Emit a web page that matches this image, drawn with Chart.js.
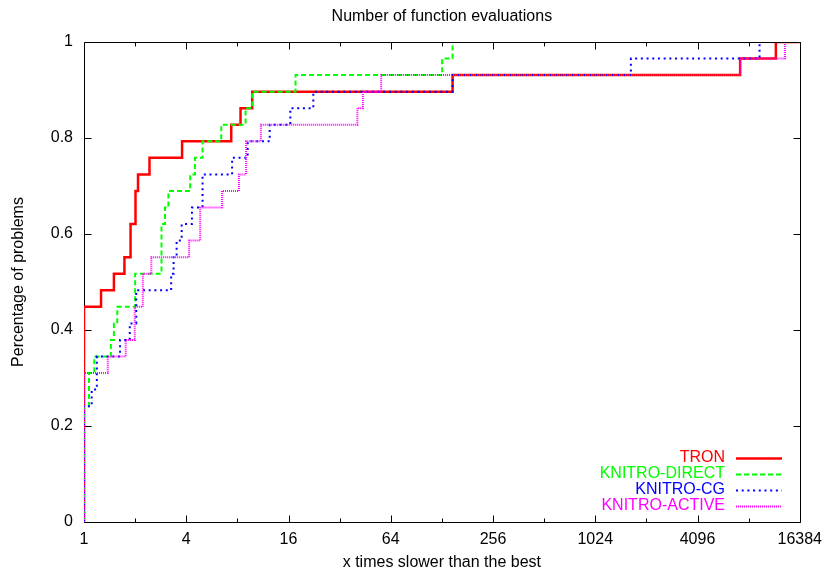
<!DOCTYPE html>
<html>
<head>
<meta charset="utf-8">
<title>Number of function evaluations</title>
<script src="https://cdn.jsdelivr.net/npm/chart.js@4.4.1/dist/chart.umd.min.js"></script>
<style>
    html, body { margin: 0; padding: 0; background: #fff; }
    #wrap { width: 830px; height: 578px; }
</style>
</head>
<body>
<div id="wrap"><canvas id="profile-chart" width="830" height="578"></canvas></div>
<script>
    "use strict";

    // Axis ticks
    const xTicks = [1, 4, 16, 64, 256, 1024, 4096, 16384];
    const xMinorTicks = [2, 8, 32, 128, 512, 2048, 8192];
    const yTicks = [0, 0.2, 0.4, 0.6, 0.8, 1];
    const numProblems = 29;

    // Performance profile: ratio where the step happens, problems solved up to that ratio
    const tronRatio = [1, 1.26, 1.5, 1.73, 1.88, 2.01, 2.08, 2.43, 3.78, 7.36, 8.35, 9.78, 148, 7300, 11850];
    const tronCount = [13, 14, 15, 16, 18, 20, 21, 22, 23, 24, 25, 26, 27, 28, 29];

    const directRatio = [1, 1.07, 1.15, 1.44, 1.5, 1.57, 2.0, 2.86, 3.0, 3.14, 4.22, 4.5, 4.99, 6.43, 8.94, 9.78, 17.6, 128.5, 148];
    const directCount = [7, 9, 10, 11, 12, 13, 15, 18, 19, 20, 21, 22, 23, 24, 25, 26, 27, 28, 29];

    const cgRatio = [1, 1.11, 1.19, 1.63, 1.86, 2.03, 3.26, 3.37, 3.51, 3.76, 4.32, 4.99, 7.45, 9.2, 12.4, 16.4, 22.4, 148, 1660, 9500];
    const cgCount = [7, 8, 10, 11, 12, 14, 15, 16, 17, 18, 19, 21, 22, 23, 24, 25, 26, 27, 28, 29];

    const activeRatio = [1, 1.38, 1.76, 1.99, 2.22, 2.49, 4.16, 4.83, 6.5, 8.17, 9.0, 11.0, 40.7, 43.9, 56.2, 7300, 13400];
    const activeCount = [9, 10, 11, 13, 15, 16, 17, 19, 20, 21, 23, 24, 25, 26, 27, 28, 29];

    const FONT = '"Liberation Sans", Arial, Helvetica, sans-serif';
    const X_MAX = xTicks[xTicks.length - 1];

    // Build step points: start at 0 on x=1, run out to the right edge at the end
    function profilePoints(ratios, counts) {
        const pts = [{ x: 1, y: 0 }];
        ratios.forEach(function (r, i) {
            pts.push({ x: r, y: counts[i] / numProblems });
        });
        pts.push({ x: X_MAX, y: counts[counts.length - 1] / numProblems });
        return pts;
    }

    function makeDataset(label, ratios, counts, color, width, dash, order) {
        return {
            label: label,
            data: profilePoints(ratios, counts),
            borderColor: color,
            backgroundColor: color,
            borderWidth: width,
            borderDash: dash,
            borderCapStyle: 'butt',
            stepped: 'before',
            pointRadius: 0,
            fill: false,
            order: order
        };
    }

    function crisp(v) {
        return Math.round(v) + 0.5;
    }

    // Frame and inward ticks go under the curves so the x=1 risers stay visible
    const gnuplotFrame = {
        id: 'gnuplotFrame',
        beforeDatasetsDraw(chart) {
            const ctx = chart.ctx;
            const area = chart.chartArea;
            const xs = chart.scales.x;
            const ys = chart.scales.y;
            const left = crisp(area.left), right = crisp(area.right);
            const top = crisp(area.top), bottom = crisp(area.bottom);

            ctx.save();
            ctx.setLineDash([]);
            ctx.strokeStyle = '#000';
            ctx.lineWidth = 1;
            ctx.beginPath();
            ctx.rect(left, top, right - left, bottom - top);

            xTicks.forEach(function (v) {
                const px = crisp(xs.getPixelForValue(v));
                ctx.moveTo(px, bottom); ctx.lineTo(px, bottom - 7);
                ctx.moveTo(px, top); ctx.lineTo(px, top + 7);
            });
            xMinorTicks.forEach(function (v) {
                const px = crisp(xs.getPixelForValue(v));
                ctx.moveTo(px, bottom); ctx.lineTo(px, bottom - 4);
                ctx.moveTo(px, top); ctx.lineTo(px, top + 4);
            });
            yTicks.forEach(function (v) {
                const py = crisp(ys.getPixelForValue(v));
                ctx.moveTo(left, py); ctx.lineTo(left + 7, py);
                ctx.moveTo(right, py); ctx.lineTo(right - 7, py);
            });
            ctx.stroke();
            ctx.restore();
        },
        afterDatasetsDraw(chart) {
            const ctx = chart.ctx;
            const area = chart.chartArea;
            const top = crisp(area.top);

            ctx.save();
            // top border stays black over curves that reach 1
            ctx.setLineDash([]);
            ctx.strokeStyle = '#000';
            ctx.lineWidth = 1;
            ctx.beginPath();
            ctx.moveTo(crisp(area.left) + 2, top);
            ctx.lineTo(crisp(area.right), top);
            ctx.stroke();

            // Titles
            ctx.fillStyle = '#000';
            ctx.font = '16px ' + FONT;
            ctx.textAlign = 'center';
            ctx.textBaseline = 'middle';
            const midX = (area.left + area.right) / 2;
            ctx.fillText('Number of function evaluations', midX, 17);
            ctx.fillText('x times slower than the best', midX, 563);

            ctx.save();
            ctx.translate(19, (area.top + area.bottom) / 2);
            ctx.rotate(-Math.PI / 2);
            ctx.fillText('Percentage of problems', 0, 0);
            ctx.restore();

            // Legend, text right aligned with the line sample after it
            ctx.textAlign = 'right';
            chart.data.datasets.forEach(function (ds, i) {
                const y = 458 + i * 16;
                ctx.fillStyle = ds.borderColor;
                ctx.fillText(ds.label, 725, y);
                ctx.strokeStyle = ds.borderColor;
                ctx.lineWidth = ds.borderWidth;
                ctx.setLineDash(ds.borderDash);
                ctx.beginPath();
                ctx.moveTo(736, y + 0.5);
                ctx.lineTo(782, y + 0.5);
                ctx.stroke();
            });
            ctx.restore();
        }
    };

    const ctxEl = document.getElementById('profile-chart');
    new Chart(ctxEl, {
        type: 'line',
        data: {
            datasets: [
                makeDataset('TRON', tronRatio, tronCount, '#ff0000', 2.5, [], 4),
                makeDataset('KNITRO-DIRECT', directRatio, directCount, '#00ff00', 2, [5, 3], 3),
                makeDataset('KNITRO-CG', cgRatio, cgCount, '#0000ff', 2, [2, 3.7], 2),
                makeDataset('KNITRO-ACTIVE', activeRatio, activeCount, '#ff00ff', 2, [1, 1], 1)
            ]
        },
        options: {
            responsive: false,
            animation: false,
            layout: { padding: { left: 0, right: 26, top: 42, bottom: 0 } },
            plugins: {
                legend: { display: false },
                title: { display: false },
                tooltip: { enabled: false }
            },
            scales: {
                x: {
                    type: 'logarithmic',
                    min: 1,
                    max: X_MAX,
                    grid: { display: false, drawTicks: false },
                    border: { display: false },
                    afterFit: function (scale) { scale.height = 56; },
                    afterBuildTicks: function (scale) {
                        scale.ticks = xTicks.map(function (v) { return { value: v }; });
                    },
                    ticks: {
                        autoSkip: false,
                        maxRotation: 0,
                        padding: 8,
                        color: '#000',
                        font: { family: FONT, size: 16 },
                        callback: function (value) { return String(value); }
                    }
                },
                y: {
                    min: 0,
                    max: 1,
                    grid: { display: false, drawTicks: false },
                    border: { display: false },
                    afterFit: function (scale) { scale.width = 84; },
                    afterBuildTicks: function (scale) {
                        scale.ticks = yTicks.map(function (v) { return { value: v }; });
                    },
                    ticks: {
                        padding: 11,
                        color: '#000',
                        font: { family: FONT, size: 16 },
                        callback: function (value) { return String(Number(value.toFixed(1))); }
                    }
                }
            }
        },
        plugins: [gnuplotFrame]
    });
</script>
</body>
</html>
